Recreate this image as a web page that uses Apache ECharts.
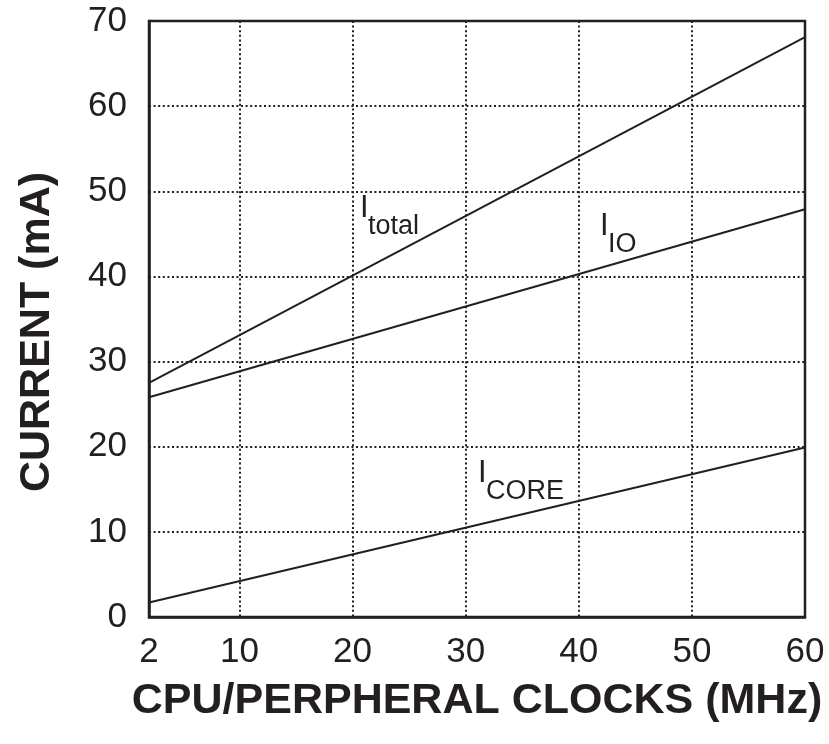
<!DOCTYPE html>
<html>
<head>
<meta charset="utf-8">
<script src="https://cdn.jsdelivr.net/npm/echarts@6/dist/echarts.min.js"></script>
<style>
  html, body { margin: 0; padding: 0; background: #fff; }
  #chart { width: 829px; height: 744px; }
</style>
</head>
<body>
<div id="chart"></div>
<script>
// Supply current versus clock frequency
const clockMHz = [2, 60];
const iTotal = [27.5, 68.1];
const iIO = [25.8, 47.9];
const iCore = [1.7, 19.9];
const xTicks = [2, 10, 20, 30, 40, 50, 60];

// Curve names: subscript text and the data point at the top-left of each "I"
const curveSubs = ['total', 'IO', 'CORE'];
const curveNameAt = [[20.66, 49.8], [41.88, 47.7], [31.09, 18.67]];

const ink = '#231f20';
const font = '"Liberation Sans", Arial, sans-serif';

function pairs(xs, ys) {
  return xs.map((x, i) => [x, ys[i]]);
}

function curve(name, ys) {
  return {
    name: name,
    type: 'line',
    data: pairs(clockMHz, ys),
    showSymbol: false,
    silent: true,
    lineStyle: { color: ink, width: 2 }
  };
}

const chart = echarts.init(document.getElementById('chart'));
chart.setOption({
  animation: false,
  backgroundColor: '#fff',
  grid: {
    left: 149, right: 24, top: 21, bottom: 127,
    show: true, borderColor: ink, borderWidth: 2.5, backgroundColor: 'transparent'
  },
  xAxis: {
    type: 'value',
    min: 2, max: 60,
    name: 'CPU/PERPHERAL CLOCKS (MHz)',
    nameLocation: 'middle',
    nameGap: 63,
    nameTextStyle: { fontSize: 43, fontWeight: 'bold', fontFamily: font, color: ink },
    axisLine: { show: true, lineStyle: { color: ink, width: 2.5 } },
    axisTick: { show: false, customValues: xTicks },
    axisLabel: { customValues: xTicks, fontSize: 35, fontFamily: font, color: ink, margin: 18 },
    splitLine: { show: true, lineStyle: { color: ink, width: 2, type: [2, 2.6] } }
  },
  yAxis: {
    type: 'value',
    min: 0, max: 70, interval: 10,
    name: 'CURRENT (mA)',
    nameLocation: 'middle',
    nameGap: 90,
    nameRotate: 90,
    nameTextStyle: { fontSize: 43, fontWeight: 'bold', fontFamily: font, color: ink, padding: [0, 26, 0, 0] },
    axisLine: { show: true, lineStyle: { color: ink, width: 2.5 } },
    axisTick: { show: false },
    axisLabel: { fontSize: 35, fontFamily: font, color: ink, margin: 22 },
    splitLine: { show: true, lineStyle: { color: ink, width: 2, type: [2, 2.6] } }
  },
  series: [
    curve('I total', iTotal),
    curve('I IO', iIO),
    curve('I CORE', iCore)
  ]
});

// "I" plus a lowered subscript beside each curve, positioned through the grid's scale
const nameTexts = [];
curveSubs.forEach((sub, i) => {
  const p = chart.convertToPixel({ gridIndex: 0 }, curveNameAt[i]);
  nameTexts.push({
    type: 'text', x: p[0], y: p[1], silent: true,
    style: { text: 'I', fontSize: 31, fontFamily: font, fill: ink, align: 'left', verticalAlign: 'top' }
  });
  nameTexts.push({
    type: 'text', x: p[0] + 8, y: p[1] + 20, silent: true,
    style: { text: sub, fontSize: 27, fontFamily: font, fill: ink, align: 'left', verticalAlign: 'top' }
  });
});
chart.setOption({ graphic: nameTexts });
</script>
</body>
</html>
